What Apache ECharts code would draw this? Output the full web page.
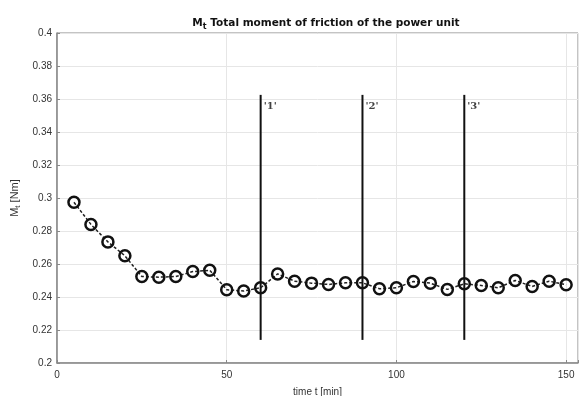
<!DOCTYPE html>
<html>
<head>
<meta charset="utf-8">
<script src="https://cdn.jsdelivr.net/npm/echarts@6/dist/echarts.min.js"></script>
<style>
  html, body { margin: 0; padding: 0; background: #fff; }
  #chart { width: 581px; height: 396px; }
</style>
</head>
<body>
<div id="chart"></div>
<script>
// Sampling times [min]
const timeMin = [5, 10, 15, 20, 25, 30, 35, 40, 45, 50,
                 55, 60, 65, 70, 75, 80, 85, 90, 95, 100,
                 105, 110, 115, 120, 125, 130, 135, 140, 145, 150];
// Total moment of friction M_t [Nm]
const momentNm = [0.2974, 0.2840, 0.2734, 0.2650, 0.2524, 0.2520, 0.2524, 0.2554, 0.2562, 0.2444,
                  0.2436, 0.2456, 0.2540, 0.2496, 0.2484, 0.2476, 0.2486, 0.2486, 0.2450, 0.2456,
                  0.2494, 0.2484, 0.2446, 0.2480, 0.2470, 0.2456, 0.2500, 0.2464, 0.2496, 0.2474];
// Marker lines for the three phases
const phaseTimes = [60, 90, 120];
const phaseLabels = ["'1'", "'2'", "'3'"];
const phaseSpan = [0.214, 0.3625];
const phaseLabelLevel = 0.3558;
// Axis ticks
const yTicks = [0.2, 0.22, 0.24, 0.26, 0.28, 0.3, 0.32, 0.34, 0.36, 0.38, 0.4];
const xTicks = [0, 50, 100, 150];

const FONT = 'Liberation Sans, Arial, sans-serif';
const TITLE_FONT = 'DejaVu Sans, Verdana, sans-serif';
const chart = echarts.init(document.getElementById('chart'), null, { renderer: 'canvas' });

const phaseSeries = phaseTimes.map(t => ({
  type: 'line',
  data: [[t, phaseSpan[0]], [t, phaseSpan[1]]],
  symbol: 'none',
  lineStyle: { color: '#111', width: 2 },
  silent: true,
  z: 3
}));

const option = {
  animation: false,
  backgroundColor: '#fff',
  title: {
    text: '{m|M}{s|t}{m| Total moment of friction of the power unit}',
    left: 321,
    textAlign: 'center',
    top: 11,
    textStyle: {
      rich: {
        m: { fontFamily: TITLE_FONT, fontSize: 10.5, fontWeight: 'bold', color: '#111' },
        s: { fontFamily: TITLE_FONT, fontSize: 8, fontWeight: 'bold', color: '#111', padding: [7, 0, 0, 0] }
      }
    }
  },
  grid: {
    left: 57, right: 3, top: 33, bottom: 33,
    outerBoundsMode: 'none',
    show: true, borderColor: '#888', borderWidth: 1, backgroundColor: '#fff'
  },
  xAxis: {
    type: 'value',
    min: 0, max: 153.5, interval: 50,
    name: 'time t [min]',
    nameLocation: 'middle',
    nameGap: 24,
    nameTextStyle: { fontFamily: FONT, fontSize: 10, color: '#333' },
    axisLine: { lineStyle: { color: '#888', width: 1.5 } },
    axisTick: { inside: true, length: 3, lineStyle: { color: '#888' } },
    axisLabel: {
      fontFamily: FONT, fontSize: 10, color: '#333', margin: 7,
      formatter: v => (xTicks.includes(v) ? String(v) : '')
    },
    splitLine: { show: true, lineStyle: { color: '#e6e6e6', width: 1 } }
  },
  yAxis: {
    type: 'value',
    min: yTicks[0], max: yTicks[yTicks.length - 1], interval: 0.02,
    name: '{m|M}{s|t}{m| [Nm]}',
    nameLocation: 'middle',
    nameGap: 33,
    nameRotate: 90,
    nameTextStyle: {
      rich: {
        m: { fontFamily: FONT, fontSize: 11, color: '#333' },
        s: { fontFamily: FONT, fontSize: 8, color: '#333', padding: [6, 0, 0, 0] }
      }
    },
    axisLine: { lineStyle: { color: '#888', width: 1.5 } },
    axisTick: { inside: true, length: 3, lineStyle: { color: '#888' } },
    axisLabel: {
      fontFamily: FONT, fontSize: 10, color: '#333', margin: 5,
      formatter: v => String(Math.round(v * 100) / 100)
    },
    splitLine: { show: true, lineStyle: { color: '#e6e6e6', width: 1 } }
  },
  series: [
    ...phaseSeries,
    {
      type: 'scatter',
      data: phaseTimes.map((t, i) => [t, phaseLabelLevel, phaseLabels[i]]),
      symbolSize: 0,
      silent: true,
      label: {
        show: true, position: 'right', distance: 3,
        formatter: p => p.value[2],
        fontFamily: 'DejaVu Serif, serif', fontSize: 10, fontWeight: 'bold', color: '#111'
      },
      z: 4
    },
    {
      type: 'line',
      data: timeMin.map((t, i) => [t, momentNm[i]]),
      symbol: 'circle',
      symbolSize: 11,
      showAllSymbol: true,
      // open circles: the dashed connecting line shows through each marker
      itemStyle: { color: 'rgba(255,255,255,0)', borderColor: '#111', borderWidth: 2.5 },
      lineStyle: { color: '#222', width: 1.5, type: [3, 2] },
      z: 5
    }
  ]
};

chart.setOption(option);
</script>
</body>
</html>
